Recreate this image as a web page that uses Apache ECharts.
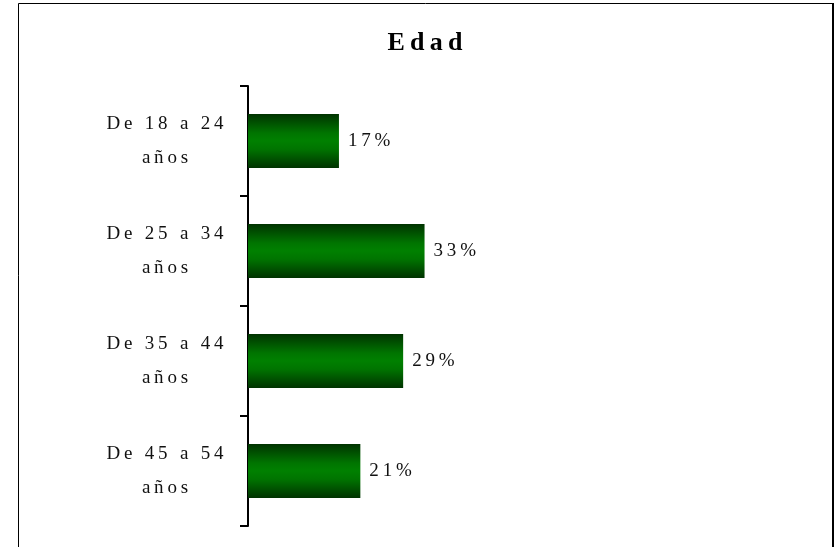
<!DOCTYPE html>
<html>
<head>
<meta charset="utf-8">
<script src="https://cdn.jsdelivr.net/npm/echarts@6/dist/echarts.min.js"></script>
<style>
  html, body { margin: 0; padding: 0; background: #fff; }
  #chart { width: 834px; height: 547px; }
</style>
</head>
<body>
<div id="chart"></div>
<script>
// age groups and share of respondents (%)
var categories = ['De 18 a 24 años', 'De 25 a 34 años', 'De 35 a 44 años', 'De 45 a 54 años']
var values = [17, 33, 29, 21]

// the original text is typeset with wide letter spacing
function spaced(s) {
  return s.split('\n').map(function (line) {
    return line.split('').join('\u2009')
  }).join('\n')
}

var serif = '"Liberation Serif", "DejaVu Serif", serif'
var chart = echarts.init(document.getElementById('chart'))

chart.setOption({
  animation: false,
  backgroundColor: '#fff',
  title: {
    text: spaced('Edad'),
    left: 420,
    top: 25,
    textAlign: 'center',
    textStyle: {
      fontFamily: serif,
      fontSize: 26,
      fontWeight: 'bold',
      color: '#000'
    }
  },
  graphic: [
    {
      type: 'rect',
      shape: { x: 18.5, y: 3.5, width: 814, height: 600 },
      style: { fill: 'none', stroke: '#000', lineWidth: 1 }
    },
    {
      type: 'line',
      shape: { x1: 833, y1: 3, x2: 833, y2: 547 },
      style: { stroke: '#000', lineWidth: 2 }
    }
  ],
  grid: {
    left: 248,
    right: 51,
    top: 86,
    bottom: 21
  },
  xAxis: {
    type: 'value',
    min: 0,
    max: 100,
    show: false
  },
  yAxis: {
    type: 'category',
    data: categories,
    inverse: true,
    axisLine: {
      show: true,
      lineStyle: { color: '#000', width: 2 }
    },
    axisTick: {
      show: true,
      length: 8,
      lineStyle: { color: '#000', width: 2 }
    },
    axisLabel: {
      align: 'center',
      margin: 83,
      fontFamily: serif,
      fontSize: 19,
      lineHeight: 34,
      color: '#111',
      formatter: function (v) {
        return spaced(v.replace(' años', '\naños'))
      }
    }
  },
  series: [
    {
      type: 'bar',
      data: values,
      barWidth: 54,
      itemStyle: {
        color: new echarts.graphic.LinearGradient(0, 0, 0, 1, [
          { offset: 0, color: '#003300' },
          { offset: 0.35, color: '#007400' },
          { offset: 0.5, color: '#008000' },
          { offset: 0.65, color: '#007400' },
          { offset: 1, color: '#003300' }
        ])
      },
      label: {
        show: true,
        position: 'right',
        distance: 9,
        fontFamily: serif,
        fontSize: 19,
        color: '#111',
        formatter: function (p) {
          return spaced(p.value + '%')
        }
      }
    }
  ]
})
</script>
</body>
</html>
